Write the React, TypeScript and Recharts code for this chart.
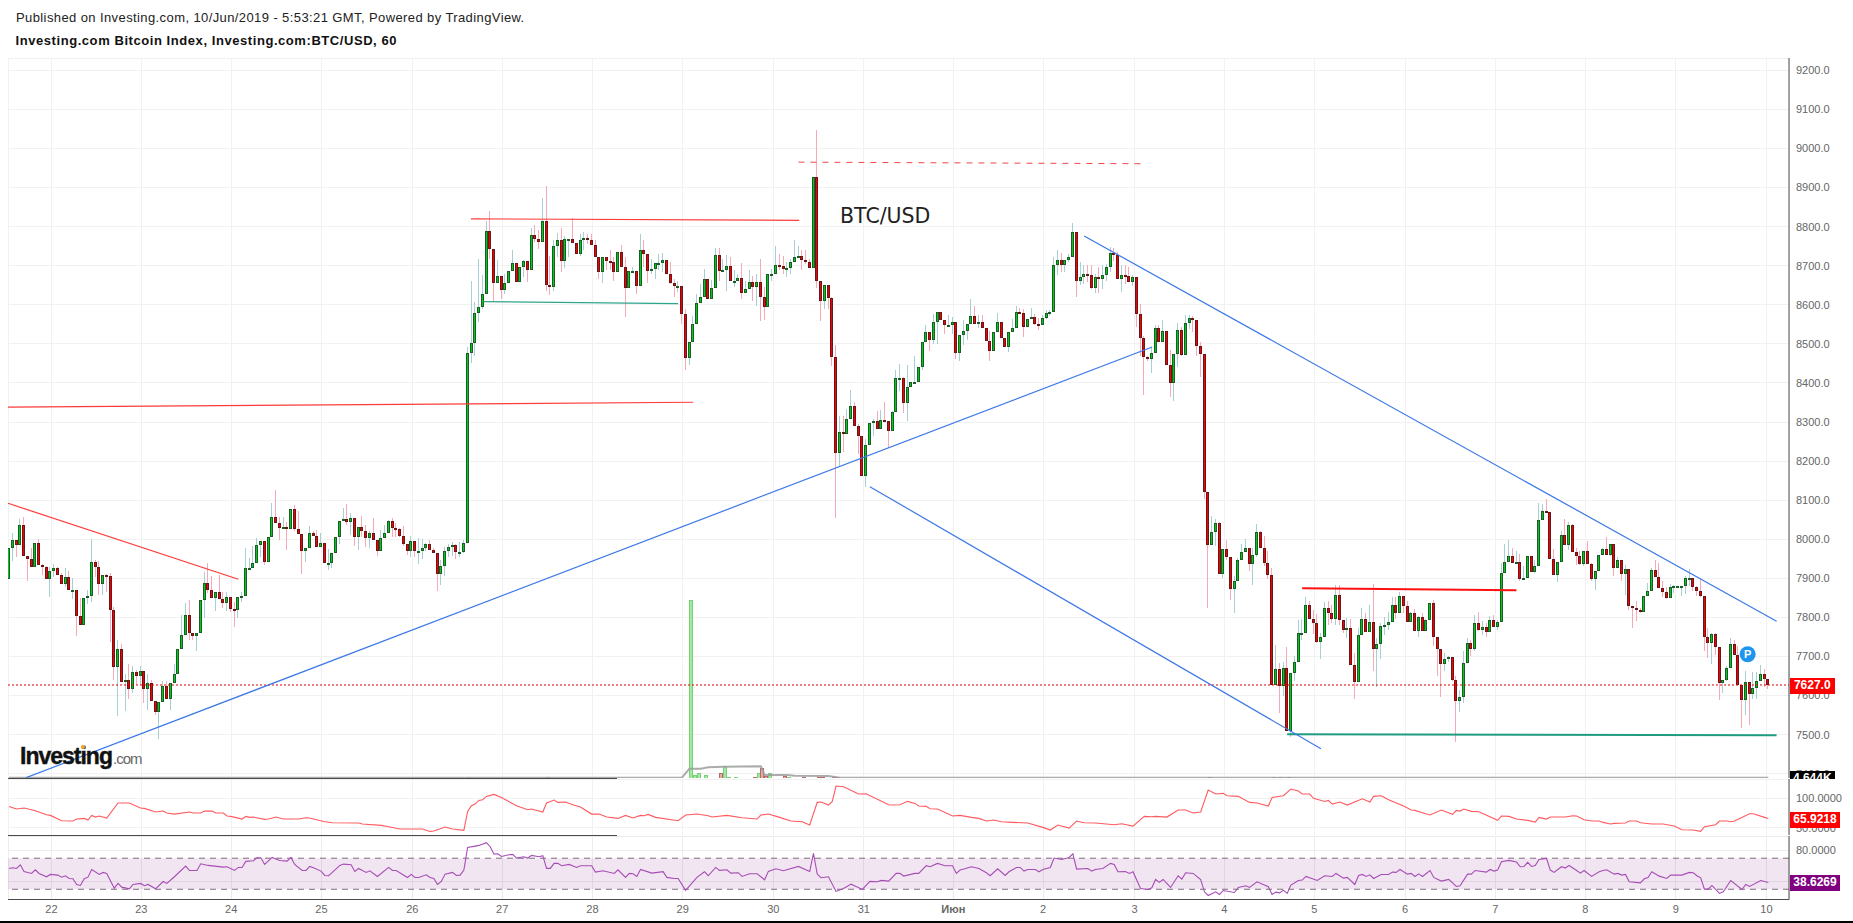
import { Bar, CartesianGrid, ComposedChart, Line, ReferenceArea, ReferenceDot, ReferenceLine, XAxis, YAxis } from 'recharts';

// hourly BTC/USD candles, opens follow the previous close
const firstOpen = 7899;
const closes = [
  7977,7997,7984,8036,7958,7949,7930,7990,7935,7930,7899,7918,7926,7908,7886,7903,7869,7869,7804,7781,
  7849,7856,7941,7928,7886,7908,7905,7820,7673,7720,7635,7641,7618,7659,7650,7662,7618,7633,7586,7558,
  7584,7624,7591,7631,7656,7718,7756,7805,7761,7753,7761,7844,7887,7869,7850,7864,7846,7838,7851,7822,
  7820,7851,7854,7926,7926,7938,7985,7995,7941,8005,8056,8041,8030,8031,8026,8077,8026,8013,7969,7977,
  8015,8009,7981,7990,7938,7938,7964,8005,8046,8051,8045,8054,8005,8031,8020,8003,8015,7997,7971,8003,
  8015,8046,8028,8026,8008,7987,7971,7995,7969,7969,7977,7987,7972,7964,7910,7931,7969,7979,7984,7967,
  7967,7990,8477,8503,8580,8595,8628,8790,8744,8656,8674,8639,8656,8687,8708,8658,8697,8711,8689,8779,
  8768,8761,8815,8650,8645,8751,8767,8712,8769,8769,8758,8730,8767,8772,8767,8754,8721,8685,8723,8713,
  8709,8685,8736,8697,8644,8687,8687,8649,8741,8729,8687,8692,8706,8708,8715,8680,8656,8648,8649,8577,
  8463,8504,8551,8605,8620,8667,8616,8644,8728,8686,8690,8700,8661,8661,8669,8630,8641,8659,8645,8659,
  8620,8594,8680,8680,8703,8700,8691,8695,8710,8721,8724,8715,8709,8694,8926,8661,8609,8650,8617,8466,
  8220,8274,8269,8308,8340,8289,8263,8161,8241,8297,8302,8281,8305,8302,8276,8326,8413,8413,8348,8390,
  8402,8403,8441,8505,8531,8510,8556,8582,8562,8548,8548,8556,8476,8523,8533,8551,8572,8551,8556,8541,
  8507,8481,8531,8556,8515,8491,8531,8541,8582,8579,8543,8564,8569,8552,8548,8567,8580,8582,8703,8715,
  8703,8715,8723,8787,8661,8672,8679,8677,8642,8672,8667,8677,8697,8733,8728,8667,8677,8673,8659,8672,
  8576,8515,8466,8462,8476,8541,8505,8533,8446,8399,8474,8536,8471,8554,8567,8562,8495,8474,8122,7985,
  8019,8042,7910,7975,7954,7872,7892,7947,7968,7978,7937,7960,8019,7978,7939,7909,7628,7668,7624,7670,
  7508,7657,7685,7760,7760,7832,7796,7785,7738,7750,7824,7811,7796,7858,7793,7768,7773,7677,7634,7755,
  7796,7762,7788,7718,7732,7778,7780,7788,7832,7811,7855,7829,7787,7811,7764,7801,7764,7793,7837,7749,
  7718,7680,7693,7698,7640,7585,7596,7683,7734,7718,7785,7768,7775,7762,7793,7775,7788,7914,7941,7957,
  7939,7941,7897,7900,7957,7915,7932,8050,8072,8069,7950,7908,7942,8011,7985,8037,7968,7957,7937,7970,
  7937,7897,7918,7960,7975,7960,7988,7926,7948,7910,7924,7828,7824,7820,7815,7855,7868,7921,7903,7875,
  7864,7850,7878,7880,7880,7880,7900,7901,7878,7868,7855,7750,7734,7757,7724,7632,7639,7670,7732,7703,
  7628,7588,7634,7603,7619,7637,7655,7642,7627,
];
const highs = [
  7977,8015,7997,8051,8056,7958,7977,7990,8000,7937,7932,7929,7937,7930,7914,7926,7919,7902,7869,7849,
  7849,7870,8000,7947,7944,7908,7910,7914,7826,7742,7731,7656,7680,7676,7665,7675,7662,7656,7639,7586,
  7584,7638,7638,7631,7682,7718,7805,7838,7844,7761,7761,7844,7917,7938,7906,7864,7908,7866,7866,7851,
  7840,7851,7866,7977,7951,7983,8002,7995,7995,8005,8092,8126,8058,8058,8045,8077,8088,8073,8013,7977,
  8034,8020,8024,8017,7990,7974,7964,8005,8046,8079,8091,8067,8054,8031,8060,8037,8022,8054,7997,8024,
  8037,8050,8054,8041,8028,8034,7987,8008,7995,8003,8000,7990,7998,7977,7964,7947,7979,7988,7994,7987,
  7994,7998,8493,8660,8607,8718,8677,8814,8839,8744,8714,8674,8680,8687,8739,8708,8697,8714,8711,8797,
  8803,8792,8874,8903,8725,8765,8784,8796,8775,8769,8821,8758,8782,8786,8782,8780,8765,8721,8723,8723,
  8739,8722,8736,8752,8721,8687,8697,8687,8782,8765,8729,8716,8706,8729,8732,8715,8709,8667,8662,8649,
  8590,8504,8570,8628,8654,8691,8667,8664,8745,8746,8718,8727,8722,8688,8680,8708,8662,8688,8674,8680,
  8716,8645,8680,8692,8750,8729,8725,8709,8718,8767,8750,8739,8739,8718,8926,9047,8659,8650,8651,8621,
  8498,8315,8315,8333,8383,8350,8295,8263,8256,8297,8308,8329,8331,8352,8302,8329,8432,8449,8416,8446,
  8402,8468,8441,8505,8547,8531,8577,8582,8582,8562,8573,8568,8556,8523,8560,8551,8615,8596,8573,8573,
  8541,8534,8531,8579,8556,8515,8531,8564,8598,8592,8590,8564,8592,8577,8567,8573,8587,8587,8722,8741,
  8733,8715,8731,8808,8787,8709,8701,8701,8701,8679,8697,8701,8705,8748,8746,8735,8701,8703,8697,8675,
  8672,8603,8519,8470,8491,8547,8547,8560,8533,8485,8474,8553,8543,8574,8573,8570,8562,8504,8472,8119,
  8059,8052,8044,7975,7999,7954,7905,7952,7989,8001,7978,7978,8040,8020,8008,7969,7927,7730,7683,7687,
  7724,7657,7700,7794,7796,7852,7841,7818,7809,7760,7839,7841,7832,7884,7884,7793,7798,7796,7709,7773,
  7824,7811,7832,7886,7747,7785,7801,7815,7852,7852,7865,7855,7841,7815,7822,7803,7811,7796,7838,7845,
  7751,7718,7709,7700,7698,7649,7613,7713,7747,7741,7807,7815,7790,7785,7803,7807,7794,7939,7988,7997,
  7978,7971,7961,7932,7957,7957,7948,8093,8089,8102,8070,7975,7942,8020,8052,8044,8039,7978,7969,7970,
  7995,7939,7918,7960,7978,8006,7988,7988,7955,7948,7935,7924,7830,7841,7824,7855,7888,7926,7948,7939,
  7892,7878,7886,7884,7880,7880,7907,7924,7901,7880,7897,7855,7773,7760,7760,7724,7639,7676,7747,7741,
  7726,7628,7663,7634,7659,7659,7679,7668,7642,
];
const lows = [
  7899,7944,7955,7984,7958,7894,7930,7928,7935,7908,7899,7853,7903,7908,7886,7879,7869,7848,7753,7781,
  7781,7834,7840,7904,7858,7858,7866,7738,7639,7548,7635,7561,7590,7607,7626,7626,7581,7562,7586,7550,
  7489,7584,7591,7562,7631,7656,7718,7756,7742,7742,7714,7761,7799,7862,7850,7816,7846,7823,7816,7815,
  7776,7799,7840,7854,7926,7926,7938,7955,7934,7941,8005,8041,7998,8031,7973,8026,8022,8013,7912,7943,
  7977,8009,7979,7981,7938,7921,7926,7964,7988,8046,8037,8011,7983,7973,8005,7979,7977,7997,7957,7971,
  8003,8015,8005,8007,8005,7983,7960,7955,7955,7937,7950,7971,7972,7964,7868,7883,7906,7955,7957,7950,
  7955,7964,7990,8450,8468,8556,8588,8628,8718,8607,8656,8615,8628,8656,8687,8658,8658,8671,8658,8689,
  8761,8744,8761,8634,8626,8634,8722,8684,8694,8722,8758,8730,8725,8739,8756,8754,8721,8667,8656,8690,
  8688,8660,8685,8697,8568,8644,8686,8627,8649,8697,8656,8680,8666,8688,8684,8680,8654,8620,8632,8550,
  8434,8447,8504,8551,8605,8620,8615,8616,8644,8661,8686,8635,8661,8645,8661,8615,8630,8641,8609,8598,
  8558,8560,8594,8661,8680,8688,8680,8671,8680,8709,8721,8688,8705,8694,8694,8644,8558,8588,8588,8443,
  8055,8184,8222,8269,8308,8289,8218,8161,8134,8241,8265,8281,8281,8302,8233,8276,8326,8380,8322,8303,
  8389,8397,8402,8432,8505,8481,8500,8500,8560,8524,8547,8526,8461,8456,8497,8510,8551,8551,8541,8541,
  8507,8456,8481,8531,8515,8491,8479,8531,8541,8579,8517,8543,8564,8547,8536,8547,8564,8570,8582,8675,
  8684,8684,8709,8723,8621,8650,8654,8658,8641,8630,8630,8641,8662,8684,8712,8667,8632,8652,8659,8647,
  8543,8470,8370,8457,8425,8476,8505,8505,8446,8363,8353,8442,8468,8471,8538,8530,8468,8415,8102,7825,
  7985,7982,7910,7901,7948,7845,7811,7892,7947,7968,7918,7884,7955,7978,7932,7898,7628,7628,7556,7599,
  7508,7495,7636,7685,7741,7760,7796,7758,7734,7693,7750,7780,7785,7781,7780,7760,7747,7677,7592,7634,
  7755,7762,7762,7663,7623,7694,7755,7767,7788,7796,7811,7811,7787,7787,7764,7749,7764,7764,7793,7726,
  7649,7597,7662,7685,7638,7482,7559,7580,7683,7700,7713,7766,7756,7750,7762,7775,7768,7788,7914,7941,
  7939,7939,7892,7897,7900,7915,7914,7932,8050,8069,7950,7908,7890,7942,7985,7972,7968,7933,7935,7932,
  7937,7892,7871,7918,7960,7960,7956,7905,7926,7892,7858,7818,7772,7790,7811,7815,7854,7868,7903,7875,
  7852,7847,7850,7862,7880,7854,7861,7880,7867,7856,7852,7713,7697,7681,7704,7589,7606,7638,7670,7703,
  7628,7518,7550,7525,7591,7591,7637,7623,7617,
];

// [bar, volume in K]
const volumes = [
  [122,15],[143,15],[181,2670],[182,35],[183,65],[185,45],[189,75],[190,180],[191,15],[193,5],[198,15],[199,75],[200,150],
  [201,25],[202,75],[206,20],[207,8],[211,6],[215,6],[216,6],[219,10],[220,10],[319,10],[336,10],[338,10],[340,10],
];
const volumeAverage = [
  [0,5],[179,5],[181,140],[184,140],[186,160],[190,170],[200,175],[201,45],[207,45],[209,35],[218,30],[221,5],[468,5],
];

// [bar, value]
const upperIndicator = [
  [0,86],[2,81.6],[4,83.2],[7,78.8],[10,72.1],[11,71],[14,62.1],[17,61.6],[18,64.9],[20,66],[21,63.2],[22,71],[23,68.2],[24,69.9],[26,66.6],[29,91.6],[32,91.6],[35,83.2],[36,82.7],[39,76.6],
  [41,78.2],[42,74.9],[44,73.2],[48,76.6],[49,74.9],[51,74.9],[52,78.2],[54,78.2],[55,74.9],[57,74.9],[58,69.9],[59,69.3],[62,64.9],[63,69.3],[64,67.7],[65,68.2],[68,64.3],[69,64.9],[71,68.2],[73,64.9],
  [77,64.9],[79,67.1],[80,66.6],[84,60.5],[86,58.8],[93,58.2],[94,56.6],[99,54.3],[101,52.1],[104,48.2],[110,48.2],[112,44.3],[113,44.9],[116,51.6],[118,48.2],[121,46],[122,77.7],[123,87.1],[124,89.9],
  [125,96],[126,97.1],[127,102.7],[129,106],[131,101],[135,87.1],[138,80.5],[139,81.6],[142,76.6],[143,91.6],[145,96.6],[146,92.7],[148,93.3],[150,88.8],[152,84.9],[155,73.2],[157,73.2],[159,68.3],[162,66],[164,71],[166,66.6],[168,71],[169,70.5],[170,72.7],[172,67.7],[178,62.1],[180,71.6],[183,73.2],[186,70.5],[187,68.3],[191,71],[195,67.1],[199,64.9],[200,71.6],[202,73.2],[205,67.7],[208,61.6],[211,60.5],[213,54.9],[215,92.7],[216,93.3],[218,88.3],[219,94.4],[220,119.9],[222,118.8],[226,106.6],[228,107.1],[234,88.8],[235,88.3],[237,88.8],[239,94.4],[241,91],[242,86.6],[244,86],[245,82.1],[247,81.6],[251,70],
  [253,71],[256,67.7],[258,66],[260,61.6],[262,63.2],[264,60.5],[267,59.3],[271,58.2],[275,51],[277,46.6],[279,54.9],[282,49.9],[284,61.6],[286,58.8],[289,58.2],[294,55.5],[296,57.1],[299,53.2],[302,69.3],[304,68.8],[305,69.3],[308,68.2],[311,79.9],[313,79.9],[315,74.9],[317,76.6],[319,113.2],[321,106.6],[323,107.7],[324,103.8],[327,102.7],[330,92.7],[332,91.6],[335,86.6],[336,101],[339,103.8],[341,114.9],[343,111.6],[344,106.6],[346,106.6],[347,99.4],[350,94.3],[351,96],[352,89.9],[354,93.2],[356,88.2],[360,98.8],[362,93.2],[363,102.7],[365,103.8],[367,97.1],[371,86.6],
  [373,79.9],[374,79.4],[376,75.5],[378,71.6],[381,79.9],[384,72.7],[385,79.4],[386,78.2],[387,81.6],[389,77.7],[391,77.1],[396,62.7],[397,69.9],[399,69.3],[401,64.9],[404,62.7],[406,59.9],[407,67.7],[409,64.9],[410,68.2],[414,68.2],[416,70.5],[417,69.9],[419,63.8],[421,61.6],[423,61.6],
  [424,59.3],[426,56.6],[427,57.7],[430,58.2],[431,61.6],[433,61.6],[434,58.8],[437,56.6],[440,56.6],[443,53.2],[445,47.1],[448,46.6],[450,44.3],[451,52.1],[454,55.5],[455,61.6],[457,61.6],[458,60.5],[459,61.6],[463,73.8],[464,73.8],[467,67.7],[468,65.92],
];
const rsiValues = [
  [0,56.8],[1,57.7],[2,56.8],[3,61.5],[4,52.9],[6,50.4],[7,55.1],[8,50.4],[10,46.1],[11,49.1],[13,48.2],[14,45.6],[15,47.4],[16,43.9],[17,43.5],[18,36.2],[19,34.9],[20,43.5],[21,45.6],[22,55.5],[24,49.1],[25,51.7],[26,50.4],[28,31.4],[29,37.5],[30,32.7],[32,30.6],[33,36.2],[35,37.5],[36,34.5],[37,36.2],[39,30.6],[41,40],[42,37.5],[44,46.1],[47,59.8],[48,54.2],[50,54.2],[51,62.8],[53,60.7],[57,58.5],[58,59],[60,54.2],[61,58.1],[62,58.1],[63,65.9],[65,66.7],[66,70.6],[67,70.6],[68,62],[70,71],[72,67.1],[74,66.3],[75,71],[76,62],[78,54.2],[79,54.2],[80,59.4],[81,57.7],[83,53.4],[84,47.8],[85,47.4],[86,51.7],[88,60.7],[89,62.4],[91,61.5],[92,52.9],[93,56.8],[95,51.7],[96,53.8],[98,46.5],[101,58.1],[102,54.2],[103,54.2],[106,45.2],[107,49.1],[108,45.2],[109,45.2],[111,48.6],[112,45.2],[113,43.9],[114,36.2],[115,40],[116,49.5],[118,51.7],[119,47.8],[120,48.2],[121,54.7],[122,83.9],[124,85.6],
  [125,86.5],[127,90],[128,84.8],[129,75.4],[130,75.8],[131,72.3],[133,74.5],[134,74.9],[135,70.2],[137,71.9],[138,70.2],[139,73.6],[141,71.9],[142,73.2],[143,56.9],[144,56.9],[145,63.3],[146,63.3],[147,60.3],[149,62],[151,58.1],[152,60.3],[155,60.3],[156,52.1],[158,53.8],[161,50.4],[162,55.1],[164,45.3],[165,50.4],[166,50],[167,46.5],[168,55.6],[171,50.8],[174,52.6],[175,45.3],[177,43.9],[178,43.9],[180,28.5],[183,45.3],[185,52.6],[186,47.4],[188,58.1],[189,54.3],[191,55.1],[192,50.8],[194,51.3],[195,46.5],[197,50],[199,50],[201,42.2],[202,53],[204,56.4],[206,53.8],[210,59.4],[213,53],[214,76.2],[215,49.6],[216,44.8],[218,46.1],[220,27.2],[222,31],[224,36.6],[227,29.8],[229,40.1],[231,39.7],[232,41.4],[234,40.5],[236,50.4],[237,50.4],[238,47],[241,50.4],[242,50.4],[244,60.3],[245,59],[247,63.3],[249,60.3],[251,60.3],[252,50.4],[253,54.7],
  [254,56],[256,59],[258,56.8],[260,51.2],[261,47.4],[263,56.4],[265,47.8],[266,52.5],[268,58.1],[269,58.1],[270,53.4],[271,55.5],[273,55.5],[274,52.5],[275,55.5],[277,58.1],[278,70.2],[280,68.4],[282,71],[283,75.7],[284,56],[287,56.8],[288,53.4],[289,55.5],[291,56.8],[293,63.3],[294,62],[295,52.5],[297,52.9],[298,50.4],[299,52.5],[301,31],[303,29.7],[304,31.9],[305,42.6],[306,38.8],[307,42.6],[309,32.3],[311,47.4],[312,43.1],[313,51.2],[315,50.4],[317,42.6],[318,26.7],[319,22],[321,26.7],[322,23.3],[323,28.4],[326,25.8],[327,32.3],[329,34.5],[330,32.3],[332,39.6],[335,33.2],[336,23.3],[337,26.3],[338,25.4],[339,28.9],[340,24.6],[341,35.3],[343,41.3],[344,41.8],[345,46.5],[348,41.3],[350,47.4],[352,46.5],[353,50.4],[355,44.3],[356,45.2],[358,36.2],[359,47.8],[360,49.1],[361,46.5],[362,48.6],[363,43.9],[365,49.1],[367,49.1],[368,52.1],[369,51.7],[370,55.5],
  [372,49.5],[373,50.4],[374,46.5],[375,49.9],[376,46.5],[378,54.2],[379,45.2],[381,40.5],[383,42.6],[385,33.6],[386,34.5],[388,49.5],[389,49.5],[390,54.2],[393,52.1],[394,55.5],[395,53.4],[396,54.7],[397,65.4],[399,67.2],[401,65],[402,59],[403,59.4],[404,64.6],[405,59.4],[406,60.7],[407,68.4],[409,69.7],[410,54.7],[411,51.7],[413,59],[414,57.3],[415,60.7],[417,54.2],[418,50.8],[419,54.2],[421,46.5],[423,52.5],
  [424,54.2],[425,55.1],[427,49.5],[428,50.4],[429,48.2],[430,49.1],[431,39.6],[434,38.3],[435,43.5],[436,45.2],[437,52.5],[439,46.9],[441,43.9],[442,48.2],[445,48.2],[447,51.7],[448,51.2],[449,47.4],[450,44.8],[451,30.2],[452,30.2],[453,34.9],[455,24.6],[456,26.7],[458,41.3],[461,29.7],[462,36.2],[463,33.6],[466,41.3],[468,38.63],
];

const dayTicks = [11.3,35.2,59.1,83.1,107.3,131.2,155.2,179.2,203.3,227.4,251.2,275.1,299.4,323.3,347.2,371.4,395.4,419.3,443.4,467.5];
const dayLabels = ['22','23','24','25','26','27','28','29','30','31','Июн','2','3','4','5','6','7','8','9','10'];
const priceTicks = [7400,7500,7600,7700,7800,7900,8000,8100,8200,8300,8400,8500,8600,8700,8800,8900,9000,9100,9200];
const upperTicks = [50,100];
const rsiTicks = [40,80];
const lastPrice = 7627;

// drawn lines as [bar, price] end points
const redLines = [
  [[-0.26,8092],[61,7897.5]],
  [[-0.26,8338],[182,8350.5]],
  [[122.9,8820],[210.2,8816]],
];
const redDashedLine = [[210,8965],[301,8961]];
const redThickLine = [[344,7874.5],[401,7869.4]];
const tealLine = [[126.2,8608],[178,8603]];
const tealThickLine = [[340,7501],[470.2,7498.4]];
const blueLines = [
  [[4.6,7390],[304.1,8492]],
  [[286,8776],[470.2,7790]],
  [[229,8134.5],[349,7464]],
];
const publishMark = [462.5,7705.6];

const rows = closes.map((close, i) => {
  const open = i === 0 ? firstOpen : closes[i - 1];
  return {
    i,
    open,
    close,
    high: Math.max(highs[i], open, close),
    low: Math.min(lows[i], open, close),
    volume: volumes.find((v) => v[0] === i)?.[1],
  };
});

const toPoints = (list: number[][]) => list.map(([i, v]) => ({ i, v }));
const toSegment = (line: number[][]) => line.map(([x, y]) => ({ x, y }));

const X_DOMAIN: [number, number] = [-0.266, 473.5];
const PRICE_DOMAIN: [number, number] = [7389, 9231.5];
const VOLUME_DOMAIN: [number, number] = [0, 10800];
const GRID = '#f1f1f1';
const AXIS = '#4a4a4a';
const FONT = '"Liberation Sans", Arial, sans-serif';
const TICK = { fontSize: 11, fill: '#666666', fontFamily: FONT };
const WIDTH = 1853;

function Candle({ x, y, width, height, payload }: any) {
  const { open, close, high, low } = payload;
  const up = close >= open;
  const cx = Math.round(x + width / 2 - 0.5);
  const perUnit = high > low ? height / (high - low) : 0;
  const at = (p: number) => y + (high - p) * perUnit;
  const top = Math.round(at(Math.max(open, close)));
  const bottom = Math.round(at(Math.min(open, close)));
  const h = Math.max(bottom - top, 2);
  return (
    <g shapeRendering="crispEdges">
      <rect x={cx} y={y} width={1} height={height} fill={up ? '#a6d0d3' : '#f7a9b5'} />
      <rect x={cx - 1} y={top} width={3} height={h} fill={up ? '#1b5e24' : '#6a1518'} />
      {h > 2 && <rect x={cx} y={top + 1} width={1} height={h - 2} fill={up ? '#00c81e' : '#f50000'} />}
    </g>
  );
}

function VolumeBar({ x, y, width, height, payload }: any) {
  if (!payload.volume) return null;
  const up = payload.close >= payload.open;
  const cx = Math.round(x + width / 2 + 1);
  return (
    <rect
      x={cx - 1}
      y={y}
      width={3}
      height={height}
      fill={up ? '#a2e8a2' : '#e8a8a8'}
      stroke={up ? '#78d078' : '#b86a6a'}
      strokeWidth={1}
      shapeRendering="crispEdges"
    />
  );
}

function DayTick({ x, y, payload }: any) {
  const label = dayLabels[dayTicks.indexOf(payload.value)];
  return (
    <text x={x} y={y + 5} textAnchor="middle" fontSize={11} fontFamily={FONT} fill="#666666" fontWeight={label === 'Июн' ? 700 : 400}>
      {label}
    </text>
  );
}

function SideLabel({ top, height, width, background, children }: any) {
  return (
    <div
      style={{
        position: 'absolute',
        left: 1790,
        top,
        width,
        height,
        lineHeight: '15px',
        background,
        color: '#fff',
        font: `bold 12px ${FONT}`,
        textAlign: 'center',
        overflow: 'hidden',
      }}
    >
      {children}
    </div>
  );
}

export default function App() {
  return (
    <div style={{ position: 'absolute', left: 0, top: 0, width: WIDTH, height: 923, background: '#fff', overflow: 'hidden' }}>
      <style>{'.recharts-cartesian-grid line{shape-rendering:crispEdges}'}</style>
      <div style={{ position: 'absolute', left: 16, top: 10, font: `13px/15px ${FONT}`, color: '#222', letterSpacing: 0.4, whiteSpace: 'nowrap' }}>
        Published on Investing.com, 10/Jun/2019 - 5:53:21 GMT, Powered by TradingView.
      </div>
      <div style={{ position: 'absolute', left: 15.5, top: 33, font: `bold 13px/15px ${FONT}`, color: '#111', letterSpacing: 0.565, whiteSpace: 'nowrap' }}>
        Investing.com Bitcoin Index, Investing.com:BTC/USD, 60
      </div>

      {/* grid, price axis and volume sit under the candles */}
      <div style={{ position: 'absolute', left: 0, top: 58 }}>
        <ComposedChart width={WIDTH} height={720} data={rows} margin={{ top: 0, right: 0, bottom: 0, left: 8 }}>
          <CartesianGrid stroke={GRID} strokeWidth={1} />
          <XAxis type="number" dataKey="i" domain={X_DOMAIN} ticks={dayTicks} interval={0} hide allowDataOverflow />
          <YAxis orientation="right" width={64} domain={PRICE_DOMAIN} ticks={priceTicks} interval={0} allowDataOverflow tick={TICK} tickLine={false} tickSize={0} tickMargin={7} stroke={AXIS} tickFormatter={(v: number) => v.toFixed(1)} />
          <YAxis yAxisId="vol" orientation="left" width={0} hide domain={VOLUME_DOMAIN} allowDataOverflow />
          <Bar yAxisId="vol" dataKey="volume" barSize={3} isAnimationActive={false} shape={(p: any) => <VolumeBar {...p} />} />
          <Line yAxisId="vol" data={toPoints(volumeAverage)} dataKey="v" dot={false} stroke="#9c9c9c" strokeOpacity={0.85} strokeWidth={2} isAnimationActive={false} />
        </ComposedChart>
      </div>

      <div style={{ position: 'absolute', left: 0, top: 58 }}>
        <ComposedChart width={WIDTH} height={720} data={rows} margin={{ top: 0, right: 64, bottom: 0, left: 8 }}>
          <XAxis type="number" dataKey="i" domain={X_DOMAIN} ticks={dayTicks} hide allowDataOverflow />
          <YAxis hide domain={PRICE_DOMAIN} allowDataOverflow />
          <ReferenceLine y={lastPrice} stroke="#e00000" strokeWidth={1} strokeDasharray="2 2" />
          <Bar dataKey={(d: any) => [d.low, d.high]} barSize={3} isAnimationActive={false} shape={(p: any) => <Candle {...p} />} />
          {redLines.map((line, k) => (
            <ReferenceLine key={k} segment={toSegment(line)} ifOverflow="visible" stroke="#ff3a3a" strokeWidth={1.2} />
          ))}
          <ReferenceLine segment={toSegment(redDashedLine)} ifOverflow="visible" stroke="#f04848" strokeWidth={1} strokeDasharray="6 6" />
          <ReferenceLine segment={toSegment(redThickLine)} ifOverflow="visible" stroke="#ff1010" strokeWidth={2} />
          <ReferenceLine segment={toSegment(tealLine)} ifOverflow="visible" stroke="#2ea58c" strokeWidth={1.2} />
          <ReferenceLine segment={toSegment(tealThickLine)} ifOverflow="visible" stroke="#1f9c80" strokeWidth={2} />
          {blueLines.map((line, k) => (
            <ReferenceLine key={k} segment={toSegment(line)} ifOverflow="visible" stroke="#3b78e7" strokeWidth={1.2} />
          ))}
          <ReferenceDot
            x={publishMark[0]}
            y={publishMark[1]}
            r={8}
            fill="#1e96f0"
            stroke="none"
            ifOverflow="visible"
            label={{ value: 'P', position: 'center', fill: '#fff', fontSize: 11, fontWeight: 700, fontFamily: FONT }}
          />
        </ComposedChart>
      </div>

      <div style={{ position: 'absolute', left: 840, top: 204, font: '20.5px/24px "DejaVu Sans"', color: '#222', whiteSpace: 'nowrap' }}>BTC/USD</div>

      <div style={{ position: 'absolute', left: 20, top: 743, font: `bold 23px/26px ${FONT}`, letterSpacing: -1, color: '#111', whiteSpace: 'nowrap', WebkitTextStroke: '0.4px #111' }}>
        Investing<span style={{ font: `15px/26px ${FONT}`, letterSpacing: -1, color: '#666', marginLeft: 1, WebkitTextStroke: '0' }}>.com</span>
      </div>
      <div style={{ position: 'absolute', left: 81, top: 745, width: 4, height: 4, borderRadius: 2, background: '#f7a21b' }} />

      <div style={{ position: 'absolute', left: 8, top: 778, width: 609, height: 1, background: AXIS }} />
      <div style={{ position: 'absolute', left: 8, top: 835, width: 609, height: 1, background: AXIS }} />

      <div style={{ position: 'absolute', left: 0, top: 779 }}>
        <ComposedChart width={WIDTH} height={56} margin={{ top: 0, right: 0, bottom: 0, left: 8 }}>
          <CartesianGrid stroke={GRID} strokeWidth={1} />
          <XAxis type="number" dataKey="i" domain={X_DOMAIN} ticks={dayTicks} interval={0} hide allowDataOverflow />
          <YAxis orientation="right" width={64} domain={[38.3, 131.7]} ticks={upperTicks} interval={0} allowDataOverflow tick={TICK} tickLine={false} tickSize={0} tickMargin={7} stroke={AXIS} tickFormatter={(v: number) => v.toFixed(4)} />
          <Line data={toPoints(upperIndicator)} dataKey="v" dot={false} stroke="#ff5a5f" strokeWidth={1.1} isAnimationActive={false} />
        </ComposedChart>
      </div>

      <div style={{ position: 'absolute', left: 0, top: 836 }}>
        <ComposedChart width={WIDTH} height={85} margin={{ top: 0, right: 0, bottom: 0, left: 8 }}>
          <ReferenceArea y1={30} y2={70} fill="#800080" fillOpacity={0.1} stroke="none" />
          <CartesianGrid stroke="#eeeaee" strokeWidth={1} />
          <ReferenceLine y={70} stroke="#7d6c7d" strokeDasharray="6 5" />
          <ReferenceLine y={30} stroke="#7d6c7d" strokeDasharray="6 5" />
          <XAxis type="number" dataKey="i" domain={X_DOMAIN} ticks={dayTicks} interval={0} height={21.5} allowDataOverflow tick={(p: any) => <DayTick {...p} />} tickLine={false} stroke={AXIS} />
          <YAxis orientation="right" width={64} domain={[16.8, 98.6]} ticks={rsiTicks} interval={0} allowDataOverflow tick={TICK} tickLine={false} tickSize={0} tickMargin={7} stroke={AXIS} tickFormatter={(v: number) => v.toFixed(4)} />
          <Line data={toPoints(rsiValues)} dataKey="v" dot={false} stroke="#a64db5" strokeWidth={1.1} isAnimationActive={false} />
        </ComposedChart>
      </div>

      <SideLabel top={678} height={15.5} width={44.5} background="#ff0000">7627.0</SideLabel>
      <SideLabel top={771} height={8} width={44.5} background="#000">4.644K</SideLabel>
      <SideLabel top={812} height={15.7} width={50} background="#ff0000">65.9218</SideLabel>
      <SideLabel top={875} height={15.7} width={50} background="#800080">38.6269</SideLabel>

      <div style={{ position: 'absolute', left: 0, top: 921, width: WIDTH, height: 2, background: '#000' }} />
    </div>
  );
}
